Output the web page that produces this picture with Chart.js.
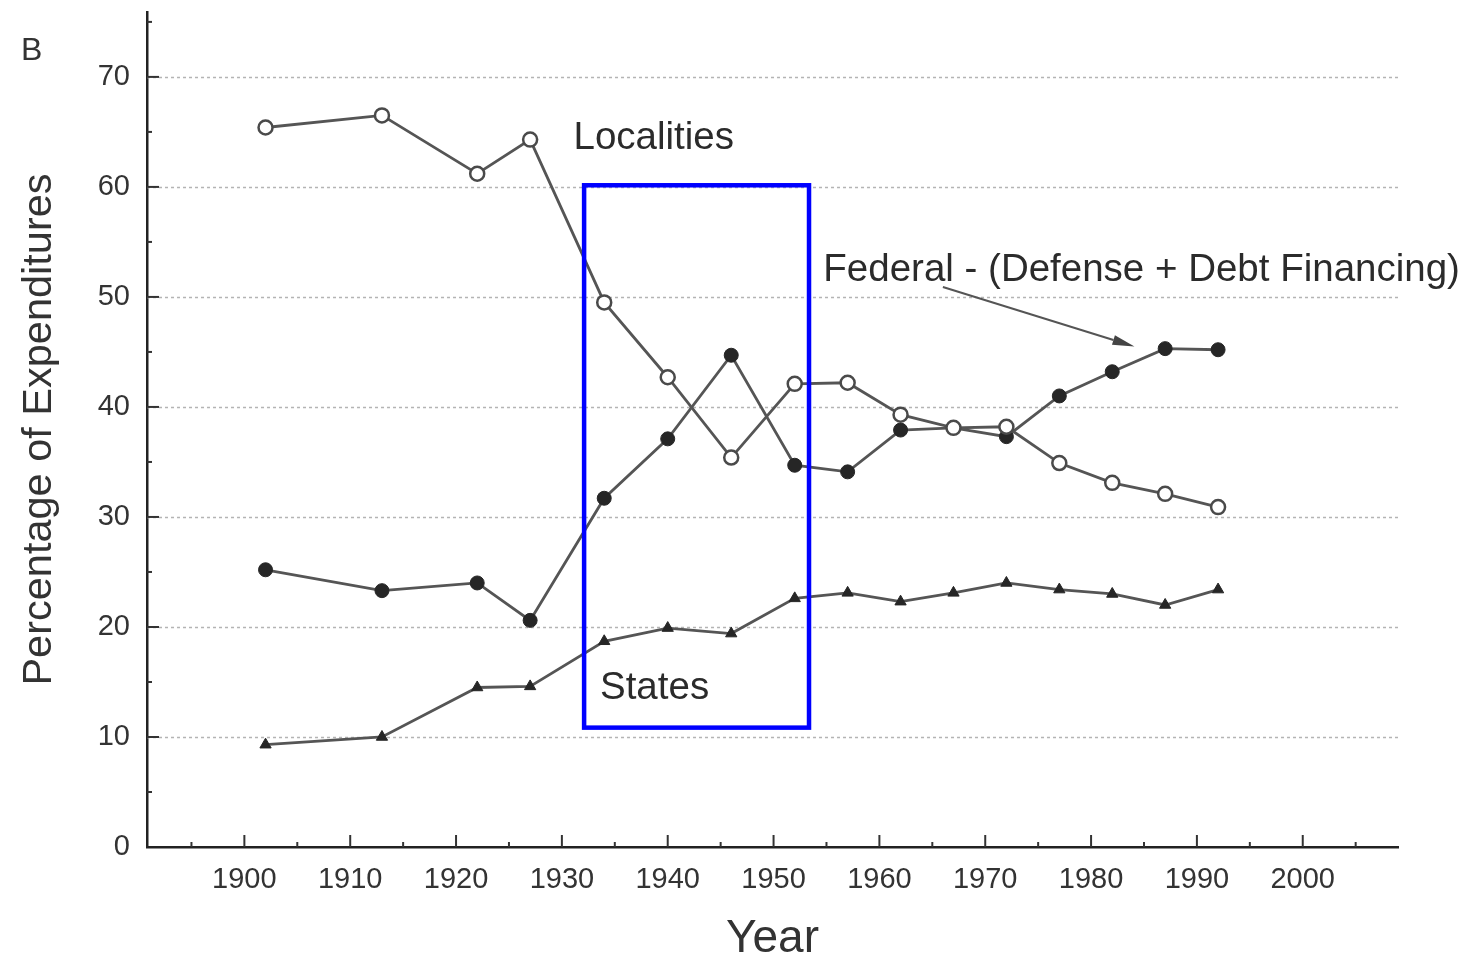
<!DOCTYPE html>
<html>
<head>
<meta charset="utf-8">
<script src="https://cdn.jsdelivr.net/npm/chart.js@4.4.1/dist/chart.umd.min.js"></script>
<style>
  html, body { margin: 0; padding: 0; background: #fff; }
  #wrap { width: 1468px; height: 963px; }
</style>
</head>
<body>
<div id="wrap"><canvas id="chart" width="1468" height="963"></canvas></div>
<script>
// Census-of-governments years and the share of expenditures by level of government
const years = [1902, 1913, 1922, 1927, 1934, 1940, 1946, 1952, 1957, 1962, 1967, 1972, 1977, 1982, 1987, 1992];
const localities = [65.4, 66.5, 61.2, 64.3, 49.5, 42.7, 35.4, 42.1, 42.2, 39.3, 38.1, 38.2, 34.9, 33.1, 32.1, 30.9];
const federal = [25.2, 23.3, 24.0, 20.6, 31.7, 37.1, 44.7, 34.7, 34.1, 37.9, 38.1, 37.3, 41.0, 43.2, 45.3, 45.2];
const states = [9.3, 10.0, 14.5, 14.6, 18.7, 19.9, 19.4, 22.6, 23.1, 22.3, 23.1, 24.0, 23.4, 23.0, 22.0, 23.4];

// Axis ticks
const xTicks = [1900, 1910, 1920, 1930, 1940, 1950, 1960, 1970, 1980, 1990, 2000];
const xMinorTicks = [1895, 1905, 1915, 1925, 1935, 1945, 1955, 1965, 1975, 1985, 1995, 2005];
const yTicks = [0, 10, 20, 30, 40, 50, 60, 70];
const yMinorTicks = [5, 15, 25, 35, 45, 55, 65, 75];

// Text
const panelLabel = 'B';
const xTitle = 'Year';
const yTitle = 'Percentage of Expenditures';
const localitiesLabel = 'Localities';
const statesLabel = 'States';
const federalLabel = 'Federal - (Defense + Debt Financing)';

const FONT = '"Liberation Sans", Arial, Helvetica, sans-serif';
const toPoints = arr => years.map((yr, i) => ({ x: yr, y: arr[i] }));

// Gridlines, tick marks, highlight box and in-plot labels
const decorations = {
  id: 'decorations',
  beforeDatasetsDraw(chart) {
    const { ctx, chartArea, scales: { y } } = chart;
    ctx.save();
    ctx.strokeStyle = '#b4b4b4';
    ctx.lineWidth = 1.5;
    ctx.setLineDash([3, 3]);
    yTicks.filter(v => v > 0).forEach(v => {
      const py = Math.round(y.getPixelForValue(v)) + 0.5;
      ctx.beginPath();
      ctx.moveTo(chartArea.left, py);
      ctx.lineTo(chartArea.right + 2, py);
      ctx.stroke();
    });
    ctx.restore();
  },
  afterDatasetsDraw(chart, args, opts) {
    const { ctx, scales: { x, y } } = chart;
    ctx.save();

    // highlighted period box
    const b = opts.box;
    const bx0 = x.getPixelForValue(b.x0), bx1 = x.getPixelForValue(b.x1);
    const by0 = y.getPixelForValue(b.y0), by1 = y.getPixelForValue(b.y1);
    ctx.strokeStyle = '#0000ff';
    ctx.lineWidth = 4.5;
    ctx.strokeRect(bx0, by0, bx1 - bx0, by1 - by0);

    // series labels
    ctx.fillStyle = '#2b2b2b';
    ctx.font = '38.5px ' + FONT;
    ctx.textBaseline = 'middle';
    ctx.textAlign = 'left';
    opts.labels.forEach(l => {
      ctx.fillText(l.text, x.getPixelForValue(l.x), y.getPixelForValue(l.y));
    });

    // pointer from the federal label to its series
    const a = opts.arrow;
    const sx = x.getPixelForValue(a.x0), sy = y.getPixelForValue(a.y0);
    const ex = x.getPixelForValue(a.x1), ey = y.getPixelForValue(a.y1);
    const ang = Math.atan2(ey - sy, ex - sx);
    const headLen = 22, headW = 5;
    ctx.strokeStyle = '#555';
    ctx.lineWidth = 2;
    ctx.beginPath();
    ctx.moveTo(sx, sy);
    ctx.lineTo(ex - headLen * Math.cos(ang), ey - headLen * Math.sin(ang));
    ctx.stroke();
    ctx.fillStyle = '#444';
    ctx.beginPath();
    ctx.moveTo(ex, ey);
    ctx.lineTo(ex - headLen * Math.cos(ang) + headW * Math.sin(ang), ey - headLen * Math.sin(ang) - headW * Math.cos(ang));
    ctx.lineTo(ex - headLen * Math.cos(ang) - headW * Math.sin(ang), ey - headLen * Math.sin(ang) + headW * Math.cos(ang));
    ctx.closePath();
    ctx.fill();

    ctx.restore();
  },
  afterDraw(chart) {
    const { ctx, chartArea, scales: { x, y } } = chart;
    ctx.save();
    ctx.strokeStyle = '#333';
    ctx.lineWidth = 2;
    // inward tick marks on the x axis
    xTicks.forEach(v => {
      const px = x.getPixelForValue(v);
      ctx.beginPath(); ctx.moveTo(px, chartArea.bottom); ctx.lineTo(px, chartArea.bottom - 12); ctx.stroke();
    });
    xMinorTicks.forEach(v => {
      const px = x.getPixelForValue(v);
      ctx.beginPath(); ctx.moveTo(px, chartArea.bottom); ctx.lineTo(px, chartArea.bottom - 5); ctx.stroke();
    });
    // inward tick marks on the y axis
    yTicks.filter(v => v > 0).forEach(v => {
      const py = y.getPixelForValue(v);
      ctx.beginPath(); ctx.moveTo(chartArea.left, py); ctx.lineTo(chartArea.left + 12, py); ctx.stroke();
    });
    yMinorTicks.forEach(v => {
      const py = y.getPixelForValue(v);
      ctx.beginPath(); ctx.moveTo(chartArea.left, py); ctx.lineTo(chartArea.left + 5, py); ctx.stroke();
    });
    // panel letter
    ctx.fillStyle = '#333';
    ctx.font = '32px ' + FONT;
    ctx.textBaseline = 'middle';
    ctx.textAlign = 'left';
    ctx.fillText(panelLabel, 21, 51);
    ctx.restore();
  }
};

const lineStyle = {
  borderColor: '#555555',
  borderWidth: 2.8,
  tension: 0,
  fill: false
};

new Chart(document.getElementById('chart'), {
  type: 'line',
  data: {
    datasets: [
      Object.assign({
        label: localitiesLabel,
        data: toPoints(localities),
        pointStyle: 'circle',
        pointRadius: 7,
        pointBackgroundColor: '#ffffff',
        pointBorderColor: '#4a4a4a',
        pointBorderWidth: 2.5
      }, lineStyle),
      Object.assign({
        label: federalLabel,
        data: toPoints(federal),
        pointStyle: 'circle',
        pointRadius: 7,
        pointBackgroundColor: '#262626',
        pointBorderColor: '#262626',
        pointBorderWidth: 1
      }, lineStyle),
      Object.assign({
        label: statesLabel,
        data: toPoints(states),
        pointStyle: 'triangle',
        pointRadius: 6.5,
        pointBackgroundColor: '#262626',
        pointBorderColor: '#262626',
        pointBorderWidth: 1
      }, lineStyle)
    ]
  },
  options: {
    responsive: false,
    animation: false,
    events: [],
    layout: { padding: { left: 0, right: 70, top: 12, bottom: 0 } },
    plugins: {
      legend: { display: false },
      tooltip: { enabled: false },
      decorations: {
        box: { x0: 1932.1, x1: 1953.35, y0: 60.15, y1: 10.85 },
        labels: [
          { text: localitiesLabel, x: 1931.1, y: 64.4 },
          { text: statesLabel, x: 1933.6, y: 14.4 },
          { text: federalLabel, x: 1954.7, y: 52.4 }
        ],
        arrow: { x0: 1966.0, y0: 50.9, x1: 1984.1, y1: 45.5 }
      }
    },
    scales: {
      x: {
        type: 'linear',
        min: 1890.8,
        max: 2009,
        afterBuildTicks: s => { s.ticks = xTicks.map(v => ({ value: v })); },
        afterFit: s => { s.height = 116; s.paddingLeft = 0; s.paddingRight = 0; },
        grid: { display: false, drawTicks: false },
        border: { display: true, color: '#222', width: 2.5 },
        ticks: {
          padding: 16,
          color: '#333',
          autoSkip: false,
          maxRotation: 0,
          font: { family: FONT, size: 29 },
          callback: v => String(v)
        },
        title: {
          display: true,
          text: xTitle,
          color: '#333',
          font: { family: FONT, size: 46, lineHeight: 1 },
          padding: { top: 0, bottom: 1 }
        }
      },
      y: {
        type: 'linear',
        min: 0,
        max: 75.9,
        afterBuildTicks: s => { s.ticks = yTicks.map(v => ({ value: v })); },
        afterFit: s => { s.width = 147; s.paddingTop = 0; s.paddingBottom = 0; },
        grid: { display: false, drawTicks: false },
        border: { display: true, color: '#222', width: 2.5 },
        ticks: {
          padding: 17,
          color: '#333',
          font: { family: FONT, size: 29 },
          callback: v => String(v)
        },
        title: {
          display: true,
          text: yTitle,
          color: '#333',
          font: { family: FONT, size: 41.5, lineHeight: 1 },
          padding: { top: 19, bottom: 0 }
        }
      }
    }
  },
  plugins: [decorations]
});
</script>
</body>
</html>
